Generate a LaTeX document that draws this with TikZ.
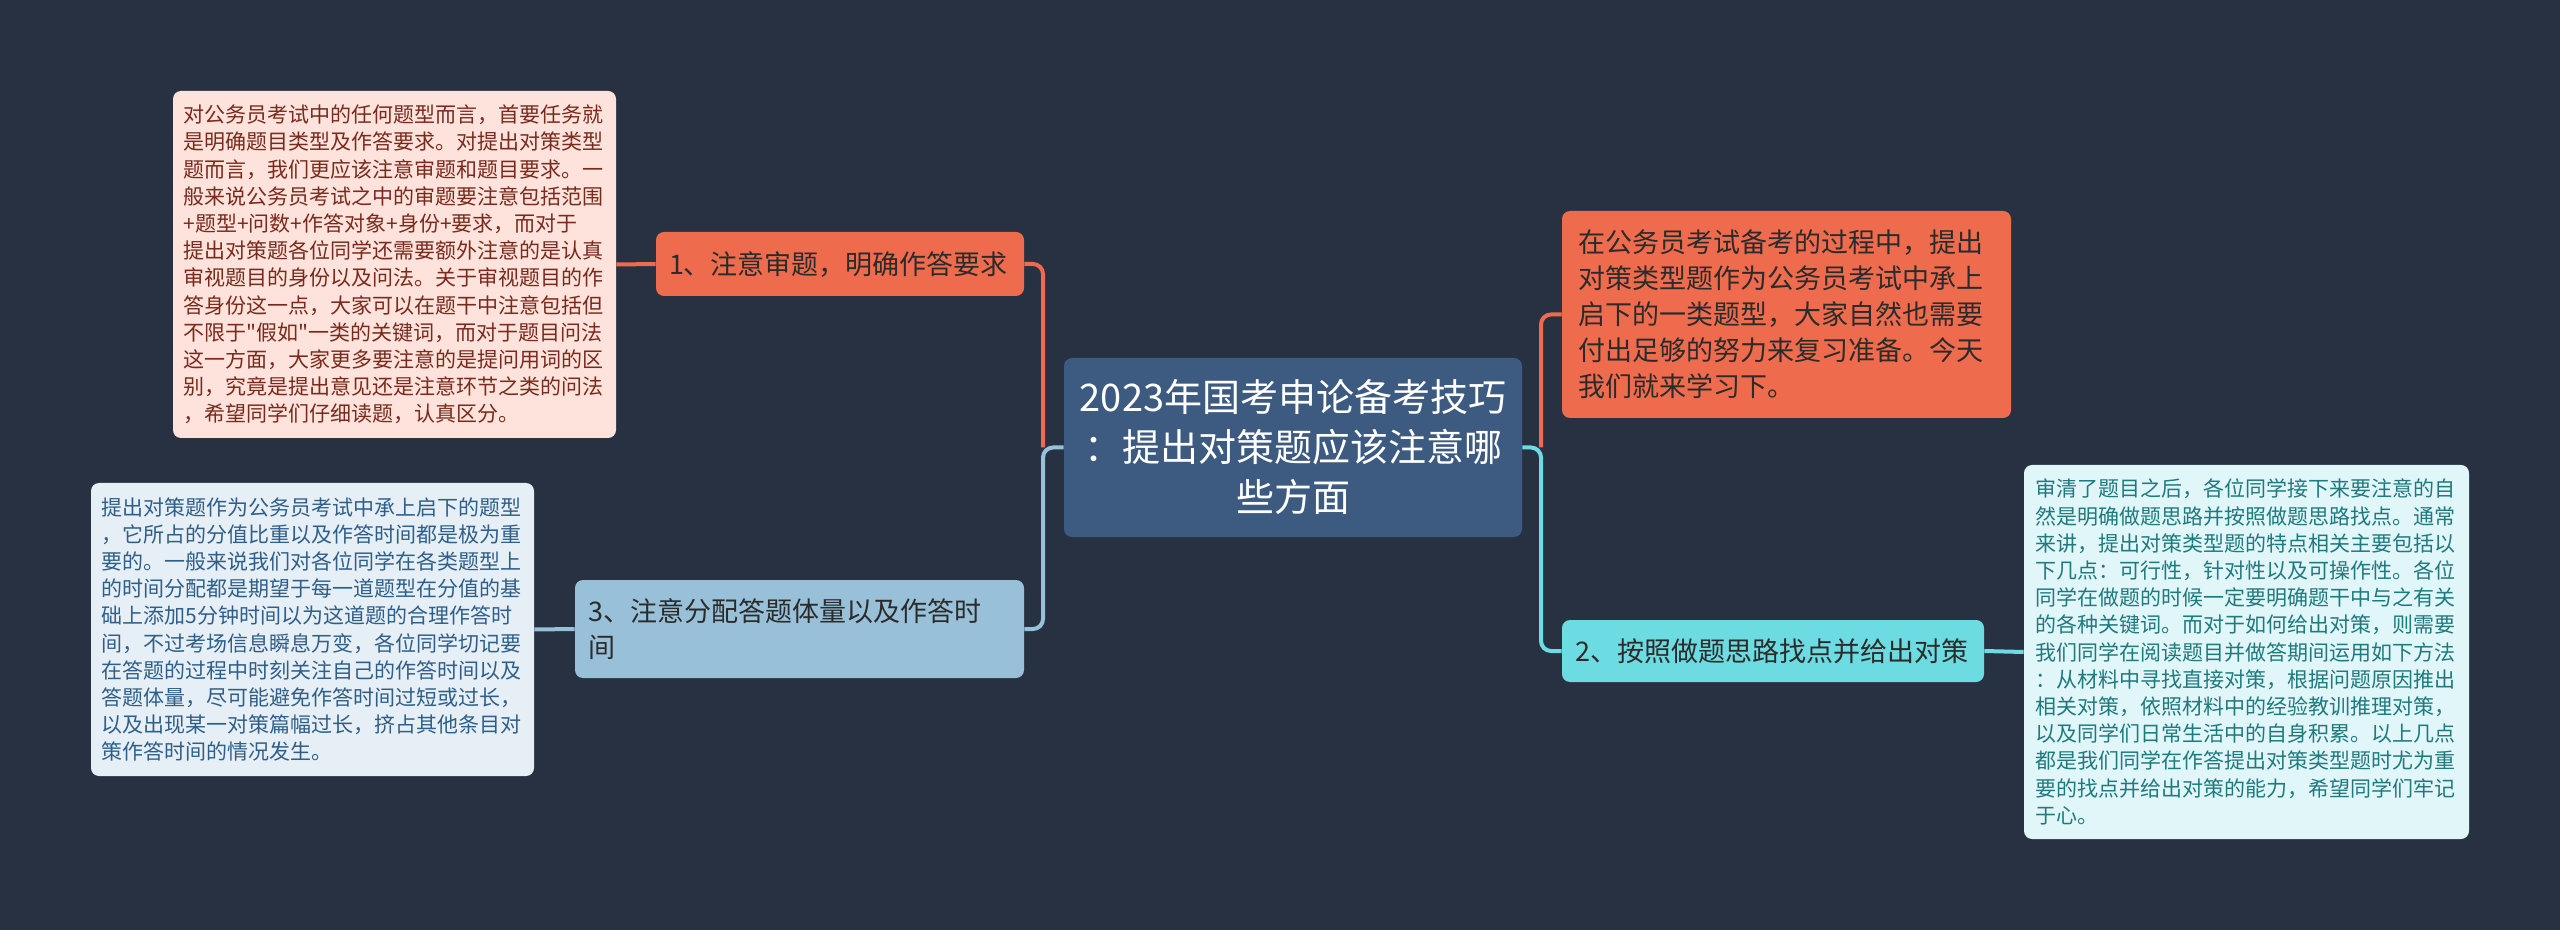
\documentclass[tikz,border=0pt]{standalone}
\usepackage{fontspec}
\setmainfont{Noto Sans CJK SC}[Ligatures=TeXOff]
\definecolor{bgdark}{HTML}{283142}
\definecolor{rootblue}{HTML}{3D5A80}
\definecolor{coral}{HTML}{EE6C4D}
\definecolor{skyblue}{HTML}{98C1D9}
\definecolor{aqua}{HTML}{6CDCE2}
\definecolor{pinkleaf}{HTML}{FDE3DC}
\definecolor{pinktext}{HTML}{7A2A1C}
\definecolor{greyleaf}{HTML}{E6EFF5}
\definecolor{greytext}{HTML}{2F5F89}
\definecolor{aqualeaf}{HTML}{E0F6F8}
\definecolor{aquatext}{HTML}{1F7A7E}
\definecolor{darktext}{HTML}{2B2B2B}

\begin{document}
\begin{tikzpicture}[x=0.5pt, y=-0.5pt,
    box/.style={rectangle, rounded corners=4pt, inner sep=0pt, align=left},
    topic/.style={box, font=\fontsize{13.5}{18}\selectfont, text=darktext},
    leaf/.style={box, font=\fontsize{10.5}{13.6}\selectfont, text width=211pt, minimum width=221.5pt},
    link/.style={line width=2pt, rounded corners=5pt}]
    \fill[bgdark] (0, 0) rectangle (2560, 930);
    \useasboundingbox (0, 0) rectangle (2560, 930);

    \node[box, fill=rootblue, text=white, align=center, text width=218pt, minimum width=229pt, minimum height=89.5pt,
        font=\fontsize{19}{25}\selectfont] (root) at (1293, 447.5)
        {2023年国考申论备考技巧\\：提出对策题应该注意哪\\些方面};

    \node[topic, fill=coral, text width=171pt, minimum width=184pt, minimum height=32pt] (tip1) at (840, 264)
        {1、注意审题，明确作答要求};
    \node[topic, fill=skyblue, text width=211pt, minimum width=224.5pt, minimum height=49pt] (tip3) at (799.5, 629)
        {3、注意分配答题体量以及作答时\\间};
    \node[topic, fill=coral, text width=208pt, minimum width=224.5pt, minimum height=103.5pt] (intro) at (1786.5, 314.5)
        {在公务员考试备考的过程中，提出\\对策类型题作为公务员考试中承上\\启下的一类题型，大家自然也需要\\付出足够的努力来复习准备。今天\\我们就来学习下。};
    \node[topic, fill=aqua, text width=198pt, minimum width=211pt, minimum height=31pt] (tip2) at (1773, 651)
        {2、按照做题思路找点并给出对策};

    \node[leaf, fill=pinkleaf, text=pinktext, minimum height=173.5pt] (note1) at (394.5, 264.5)
        {对公务员考试中的任何题型而言，首要任务就\\是明确题目类型及作答要求。对提出对策类型\\题而言，我们更应该注意审题和题目要求。一\\般来说公务员考试之中的审题要注意包括范围\\+题型+问数+作答对象+身份+要求，而对于\\提出对策题各位同学还需要额外注意的是认真\\审视题目的身份以及问法。关于审视题目的作\\答身份这一点，大家可以在题干中注意包括但\\不限于"假如"一类的关键词，而对于题目问法\\这一方面，大家更多要注意的是提问用词的区\\别，究竟是提出意见还是注意环节之类的问法\\，希望同学们仔细读题，认真区分。};
    \node[leaf, fill=greyleaf, text=greytext, minimum height=146.5pt] (note3) at (312.5, 629.5)
        {提出对策题作为公务员考试中承上启下的题型\\，它所占的分值比重以及作答时间都是极为重\\要的。一般来说我们对各位同学在各类题型上\\的时间分配都是期望于每一道题型在分值的基\\础上添加5分钟时间以为这道题的合理作答时\\间，不过考场信息瞬息万变，各位同学切记要\\在答题的过程中时刻关注自己的作答时间以及\\答题体量，尽可能避免作答时间过短或过长，\\以及出现某一对策篇幅过长，挤占其他条目对\\策作答时间的情况发生。};
    \node[leaf, fill=aqualeaf, text=aquatext, minimum width=222.5pt, minimum height=187pt] (note2) at (2246.5, 652)
        {审清了题目之后，各位同学接下来要注意的自\\然是明确做题思路并按照做题思路找点。通常\\来讲，提出对策类型题的特点相关主要包括以\\下几点：可行性，针对性以及可操作性。各位\\同学在做题的时候一定要明确题干中与之有关\\的各种关键词。而对于如何给出对策，则需要\\我们同学在阅读题目并做答期间运用如下方法\\：从材料中寻找直接对策，根据问题原因推出\\相关对策，依照材料中的经验教训推理对策，\\以及同学们日常生活中的自身积累。以上几点\\都是我们同学在作答提出对策类型题时尤为重\\要的找点并给出对策的能力，希望同学们牢记\\于心。};

    \coordinate (jleft) at (1043, 447.5);
    \coordinate (jright) at (1541, 447.5);

    \draw[link, coral] (jleft) |- (tip1.east);
    \draw[link, skyblue] (root.west) -- (jleft) |- (tip3.east);
    \draw[link, coral] (jright) |- (intro.west);
    \draw[link, aqua] (root.east) -- (jright) |- (tip2.west);

    \draw[link, coral] (tip1.west) -- (note1.east);
    \draw[link, skyblue] (tip3.west) -- (note3.east);
    \draw[link, aqua] (tip2.east) -- (note2.west);
\end{tikzpicture}
\end{document}
